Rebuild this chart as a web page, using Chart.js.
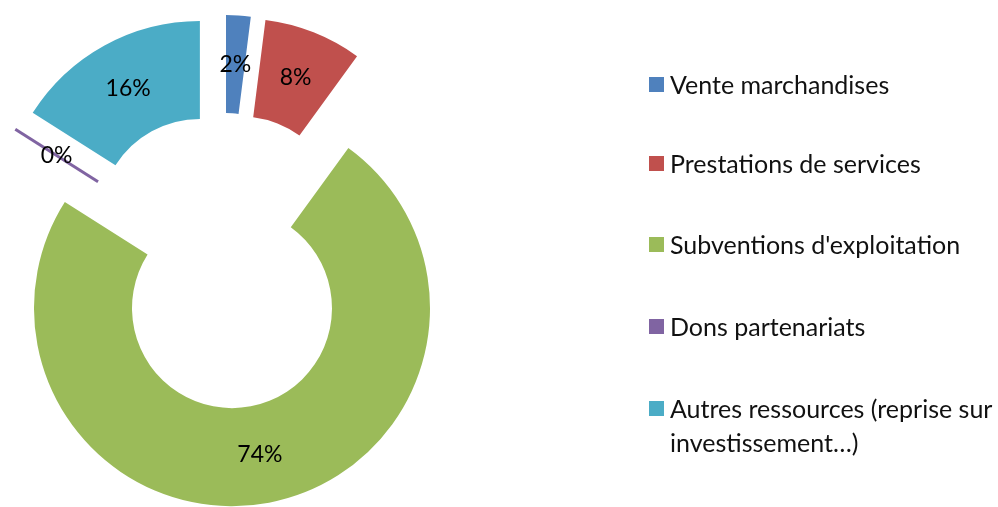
<!DOCTYPE html>
<html>
<head>
<meta charset="utf-8">
<script src="https://cdn.jsdelivr.net/npm/chart.js@4.4.0/dist/chart.umd.min.js"></script>
<style>
  html, body { margin: 0; padding: 0; background: #fff; overflow: hidden; }
  #zone { position: relative; width: 998px; height: 507px; }
  #graphe { position: absolute; left: 0; top: 0; }
  #legende { position: absolute; left: 649px; top: 0; font-family: Lato, sans-serif; font-size: 25px; color: #111; }
  .item { position: absolute; left: 0; width: 349px; line-height: 34px; }
  .carre { position: absolute; left: 0; top: 10px; width: 15px; height: 15px; }
  .texte { margin-left: 21px; }
</style>
</head>
<body>
<div id="zone">
  <canvas id="graphe" width="998" height="507"></canvas>
  <div id="legende"></div>
</div>
<script>
// donnees du graphique
var categories = ['Vente marchandises', 'Prestations de services', "Subventions d'exploitation", 'Dons partenariats', 'Autres ressources (reprise sur investissement…)'];
var valeurs = [2, 8, 74, 0, 16];
var couleurs = ['#4F81BD', '#C0504D', '#9BBB59', '#8064A2', '#4BACC6'];

var ecart = 48; // explosion des parts

// legende html (le texte long passe sur deux lignes)
var hauts = [67, 146, 227, 309, 391];
var leg = document.getElementById('legende');
for (var i = 0; i < categories.length; i++) {
  var d = document.createElement('div');
  d.className = 'item';
  d.style.top = hauts[i] + 'px';
  d.innerHTML = '<span class="carre" style="background:' + couleurs[i] + '"></span><div class="texte"></div>';
  d.querySelector('.texte').textContent = categories[i];
  leg.appendChild(d);
}

var total = valeurs.reduce(function(a, b){ return a + b; }, 0);

var partsEclatees = {
  id: 'partsEclatees',
  beforeDatasetsDraw: function(chart) {
    var ctx = chart.ctx;
    var meta = chart.getDatasetMeta(0);
    meta.data.forEach(function(arc, i) {
      var p = arc.getProps(['x', 'y', 'startAngle', 'endAngle', 'innerRadius', 'outerRadius', 'circumference']);
      var mi = (p.startAngle + p.endAngle) / 2;
      ctx.save();
      ctx.translate(Math.cos(mi) * ecart, Math.sin(mi) * ecart);
      if (p.circumference > 0) {
        arc.draw(ctx);
      } else {
        // part a 0 : juste un trait
        ctx.strokeStyle = couleurs[i];
        ctx.lineWidth = 3;
        ctx.beginPath();
        ctx.moveTo(p.x + Math.cos(mi) * p.innerRadius, p.y + Math.sin(mi) * p.innerRadius);
        ctx.lineTo(p.x + Math.cos(mi) * p.outerRadius, p.y + Math.sin(mi) * p.outerRadius);
        ctx.stroke();
      }
      ctx.restore();
    });
    // etiquettes en %
    ctx.save();
    ctx.font = '23px Lato, sans-serif';
    ctx.fillStyle = '#000';
    ctx.textAlign = 'center';
    ctx.textBaseline = 'middle';
    meta.data.forEach(function(arc, i) {
      var p = arc.getProps(['x', 'y', 'startAngle', 'endAngle', 'innerRadius', 'outerRadius']);
      var mi = (p.startAngle + p.endAngle) / 2;
      var r = (p.innerRadius + p.outerRadius) / 2 + ecart;
      ctx.fillText(Math.round(valeurs[i] / total * 100) + '%', p.x + Math.cos(mi) * r, p.y + Math.sin(mi) * r);
    });
    ctx.restore();
    return false;
  }
};

new Chart(document.getElementById('graphe'), {
  type: 'doughnut',
  data: {
    labels: categories,
    datasets: [{
      data: valeurs,
      backgroundColor: couleurs,
      borderWidth: 0
    }]
  },
  options: {
    responsive: false,
    animation: false,
    radius: 198,
    cutout: '50.5%',
    layout: { padding: { left: 0, right: 552, top: 15, bottom: 0 } },
    plugins: {
      legend: { display: false },
      tooltip: { enabled: false }
    }
  },
  plugins: [partsEclatees]
});
</script>
</body>
</html>
